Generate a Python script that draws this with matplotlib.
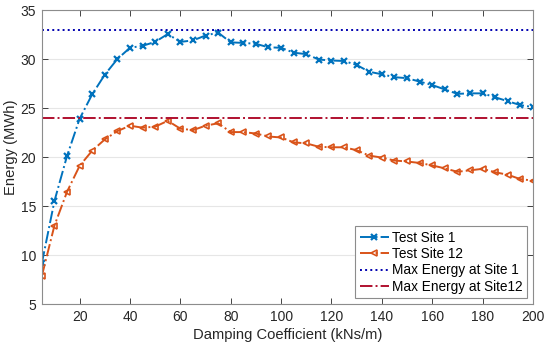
import matplotlib
matplotlib.use("Agg")
import matplotlib.pyplot as plt
import numpy as np

plt.rcParams['font.family'] = ['Liberation Sans', 'DejaVu Sans']

damping = list(range(5, 205, 5))
site1 = [9.15, 15.5, 20.1, 23.9, 26.4, 28.4, 30.0, 31.15, 31.35, 31.75,
         32.55, 31.75, 31.9, 32.4, 32.7, 31.7, 31.65, 31.55, 31.2, 31.15,
         30.65, 30.5, 29.95, 29.85, 29.8, 29.4, 28.7, 28.45, 28.15, 28.05,
         27.7, 27.35, 26.9, 26.45, 26.5, 26.5, 26.1, 25.7, 25.3, 25.1]
site12 = [7.85, 13.0, 16.45, 19.1, 20.65, 21.8, 22.65, 23.2, 23.0, 23.1,
          23.7, 22.9, 22.75, 23.2, 23.45, 22.55, 22.55, 22.4, 22.1, 22.0,
          21.5, 21.4, 21.05, 21.0, 21.0, 20.7, 20.15, 19.95, 19.65, 19.55,
          19.4, 19.15, 18.85, 18.5, 18.65, 18.8, 18.45, 18.2, 17.75, 17.6]
max1 = 32.95
max12 = 23.95
labels = ['Test Site 1', 'Test Site 12', 'Max Energy at Site 1', 'Max Energy at Site12']

fig = plt.figure(figsize=(5.5, 3.46), dpi=100)
ax = fig.add_axes([0.076, 0.121, 0.893, 0.850])

ax.plot(damping, site1, linestyle='-.', color='#0072BD', lw=1.4,
        marker='x', ms=5, mew=1.6, label=labels[0])
ax.plot(damping, site12, linestyle='-.', color='#D95319', lw=1.4,
        marker='<', ms=5, mfc='none', mew=1.2, label=labels[1])
ax.axhline(max1, color='#0000B0', lw=1.4, linestyle=':', label=labels[2])
ax.axhline(max12, color='#B0102F', lw=1.4, linestyle='-.', label=labels[3])

ax.set_xlim(5, 200)
ax.set_ylim(5, 35)
ax.set_xticks(np.arange(20, 201, 20))
ax.set_yticks(np.arange(5, 36, 5))
ax.yaxis.grid(True, color='#e6e6e6', lw=0.8)
ax.set_axisbelow(True)
ax.tick_params(direction='in', top=True, right=True, labelsize=10, colors='#262626',
               length=4, width=0.6, pad=4)
for s in ax.spines.values():
    s.set_color('#8c8c8c')
    s.set_linewidth(0.8)
ax.set_xlabel('Damping Coefficient (kNs/m)', fontsize=10.6, color='#262626', labelpad=3)
ax.set_ylabel('Energy (MWh)', fontsize=10.6, color='#262626')
ax.yaxis.set_label_coords(-0.049, 0.534)

leg = ax.legend(loc='lower right', fontsize=9.8, fancybox=False, edgecolor='#8c8c8c',
                framealpha=1, borderpad=0.3, labelspacing=0.18, handlelength=2.15,
                handletextpad=0.25, borderaxespad=0.45)
leg.get_frame().set_linewidth(0.8)

fig.savefig('out.png', dpi=100)
